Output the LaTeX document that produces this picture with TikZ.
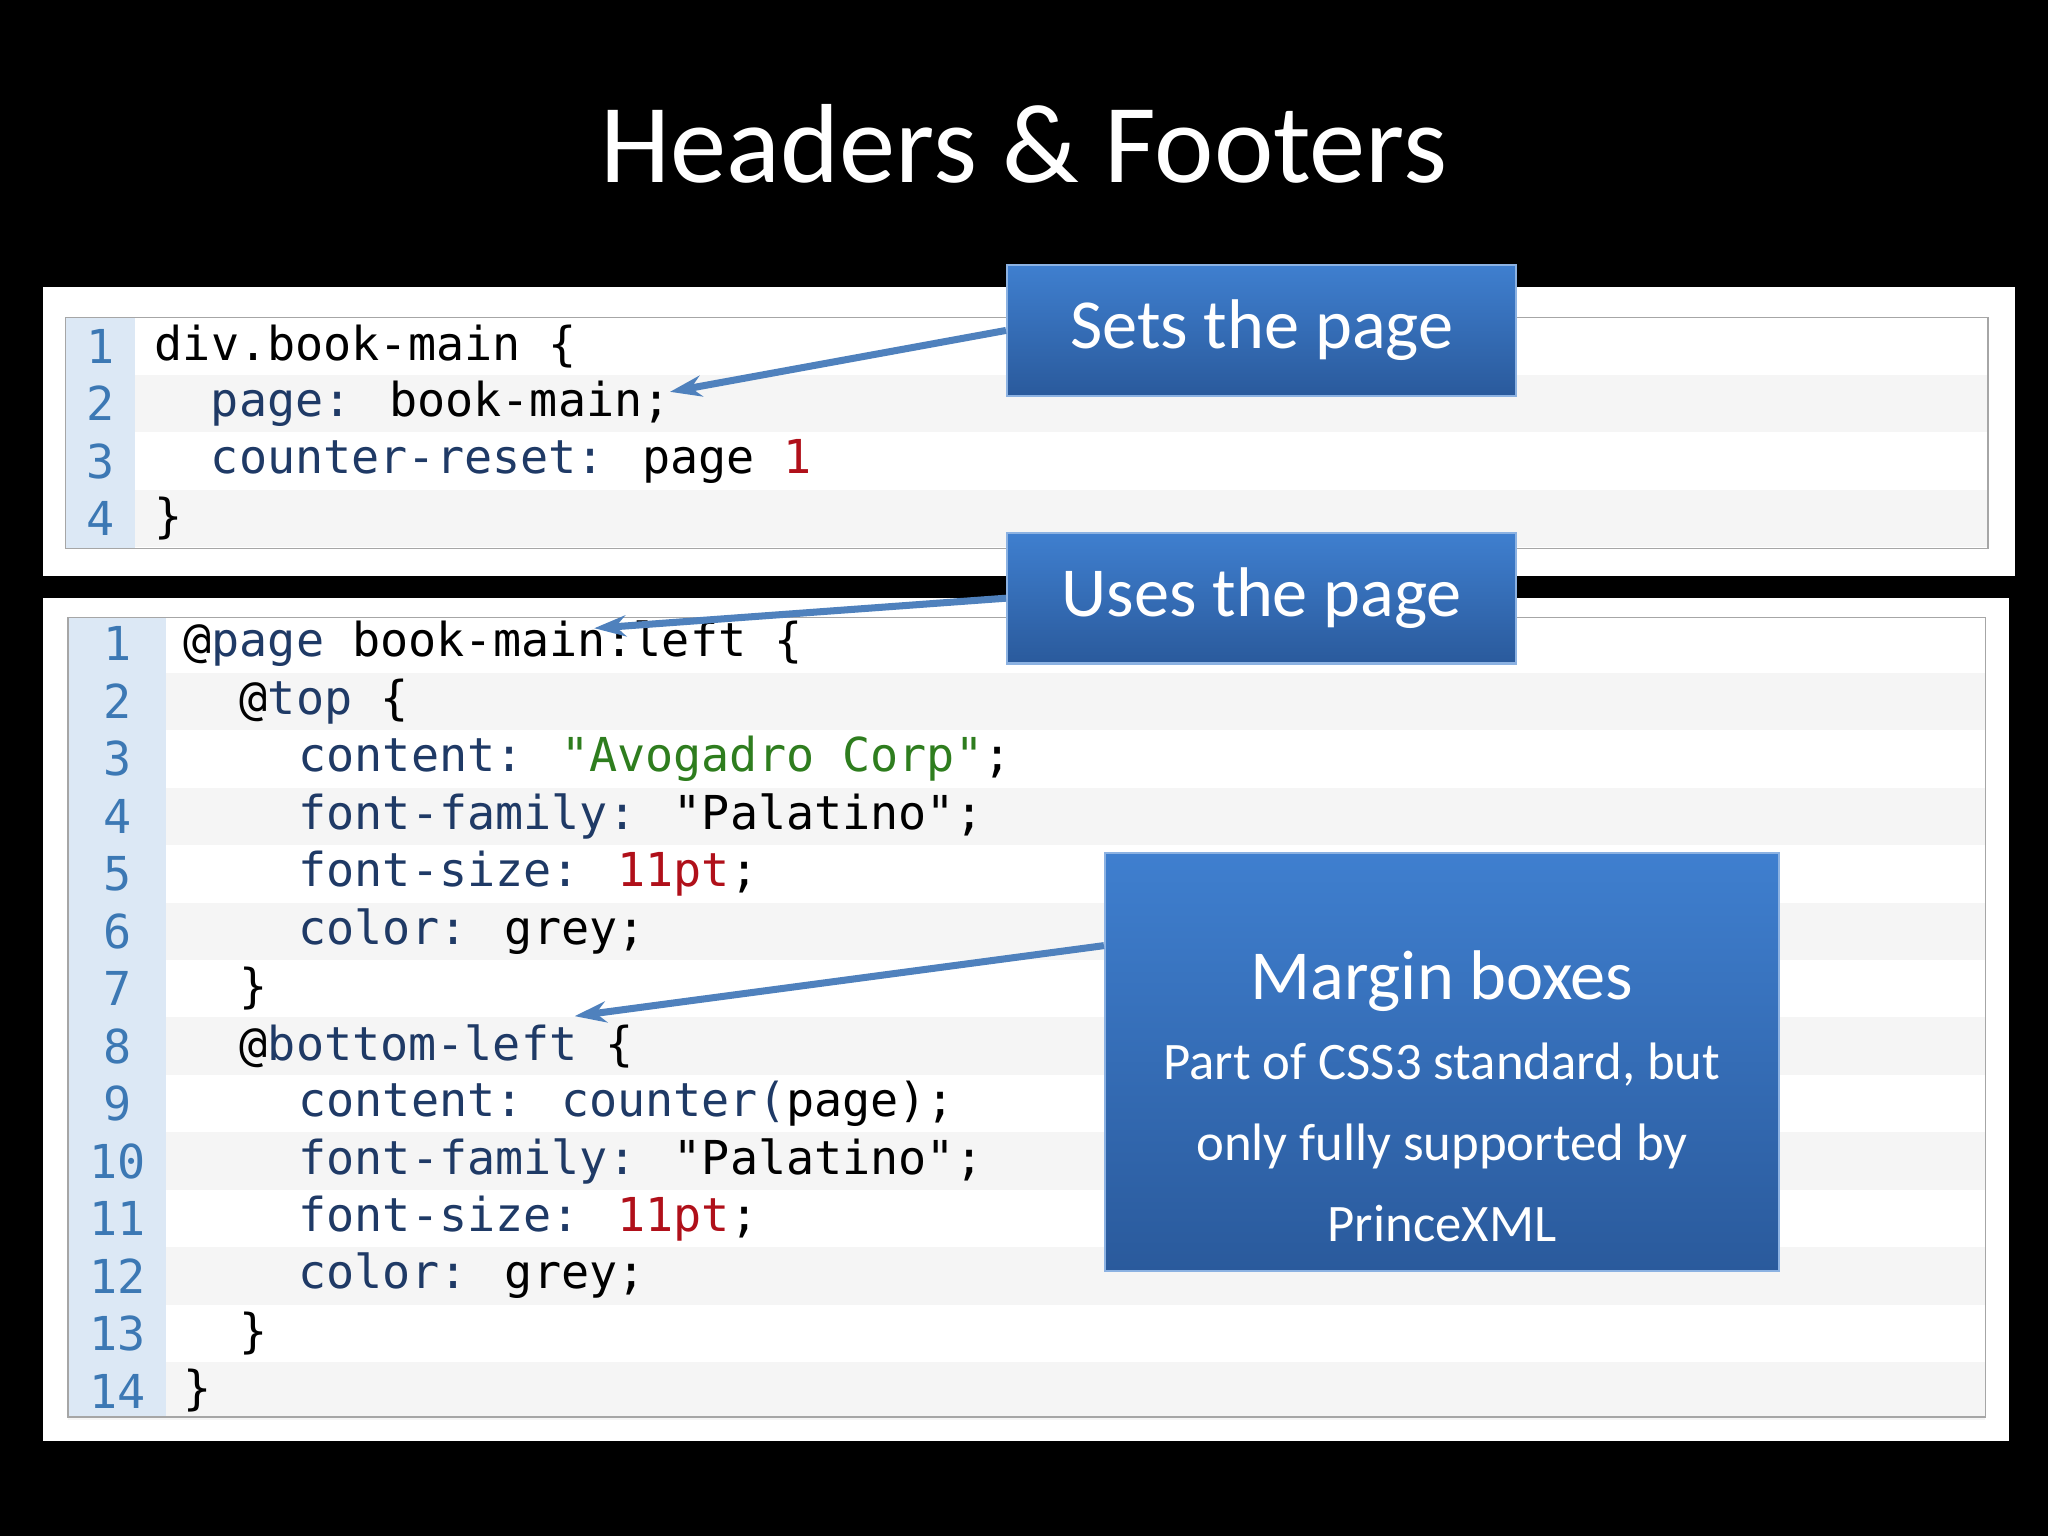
\documentclass[tikz,border=0pt]{standalone}
\usepackage{fontspec}
\setmainfont{Carlito}
\newfontfamily\codefont{DejaVu Sans Mono}
\usetikzlibrary{arrows.meta}
\definecolor{kw}{HTML}{1F3A66}
\definecolor{lnum}{HTML}{3C78B4}
\definecolor{lcol}{HTML}{DCE8F5}
\definecolor{strg}{HTML}{2E7D1E}
\definecolor{numc}{HTML}{B0101A}
\definecolor{calltop}{HTML}{3F7FCF}
\definecolor{callbot}{HTML}{2A5A9C}
\definecolor{arrowc}{HTML}{4F81BD}

\begin{document}
\begin{tikzpicture}[x=0.01306cm, y=-0.01306cm,
    code/.style={anchor=west, inner sep=0pt, font=\codefont\fontsize{13.3}{15}\selectfont},
    num/.style={code, text=lnum},
    callout/.style={draw=calltop!60!white, line width=0.6pt, top color=calltop, bottom color=callbot,
      text=white, align=center, inner sep=0pt},
    pointer/.style={-{Stealth[length=9pt,width=6pt]}, arrowc, line width=2pt}]
  % page background
  \fill[black] (0,0) rectangle (1568,1176);
  \useasboundingbox (0,0) rectangle (1568,1176);
  \node[text=white, font=\fontsize{32}{38}\selectfont] (title) at (784,110) {Headers \& Footers};
  % first listing
  \fill[white] (33,220) rectangle (1543,441);
  \foreach \i in {2,4} \fill[gray!8] (50,221+44*\i-22) rectangle (1522,221+44*\i+22);
  \fill[lcol] (50,243) rectangle (103,420);
  \draw[gray!70] (50,243) rectangle (1522,420);
  \foreach \i in {1,...,4} \node[num] (na\i) at (66,221+44*\i) {\i};
  \node[code] (a1) at (118,265) {div.book-main \{};
  \node[code] (a2) at (161,309) {\textcolor{kw}{page:} book-main;};
  \node[code] (a3) at (161,353) {\textcolor{kw}{counter-reset:} page \textcolor{numc}{1}};
  \node[code] (a4) at (118,397) {\}};
  % second listing
  \fill[white] (33,458) rectangle (1538,1103);
  \foreach \i in {2,4,...,14} \fill[gray!8] (52,449+44*\i-22) rectangle (1520,449+44*\i+22);
  \fill[lcol] (52,473) rectangle (127,1085);
  \draw[gray!70] (52,473) rectangle (1520,1085);
  \foreach \i in {1,...,9} \node[num] (nb\i) at (79,449+44*\i) {\i};
  \foreach \i in {10,...,14} \node[num] (nb\i) at (68,449+44*\i) {\i};
  \node[code] (b1) at (140,493) {@\textcolor{kw}{page} book-main:left \{};
  \node[code] (b2) at (183,537) {@\textcolor{kw}{top} \{};
  \node[code] (b3) at (228,581) {\textcolor{kw}{content:} \textcolor{strg}{"Avogadro Corp"};};
  \node[code] (b4) at (228,625) {\textcolor{kw}{font-family:} "Palatino";};
  \node[code] (b5) at (228,669) {\textcolor{kw}{font-size:} \textcolor{numc}{11pt};};
  \node[code] (b6) at (228,713) {\textcolor{kw}{color:} grey;};
  \node[code] (b7) at (183,757) {\}};
  \node[code] (b8) at (183,801) {@\textcolor{kw}{bottom-left} \{};
  \node[code] (b9) at (228,845) {\textcolor{kw}{content:} \textcolor{kw}{counter(}page);};
  \node[code] (b10) at (228,889) {\textcolor{kw}{font-family:} "Palatino";};
  \node[code] (b11) at (228,933) {\textcolor{kw}{font-size:} \textcolor{numc}{11pt};};
  \node[code] (b12) at (228,977) {\textcolor{kw}{color:} grey;};
  \node[code] (b13) at (183,1021) {\}};
  \node[code] (b14) at (140,1065) {\}};
  % callouts
  \node[callout, minimum width=390*0.01306cm, minimum height=100*0.01306cm,
    font=\fontsize{20}{24}\selectfont] (sets) at (966,253) {Sets the page};
  \node[callout, minimum width=390*0.01306cm, minimum height=100*0.01306cm,
    font=\fontsize{20}{24}\selectfont] (uses) at (966,458) {Uses the page};
  \node[callout, minimum width=516*0.01306cm, minimum height=320*0.01306cm] (margin) at (1104,813) {};
  \node[text=white, align=center, font=\fontsize{15}{23}\selectfont, anchor=north] (mtext) at (1104,718)
    {\fontsize{20}{26}\selectfont Margin boxes\\\fontsize{15}{23}\selectfont Part of CSS3 standard, but\\only fully supported by\\PrinceXML};
  \coordinate (tipa) at (513,300);
  \coordinate (tipb) at (455,481);
  \coordinate (tipc) at (440,778);
  \draw[pointer] (sets.west) -- (tipa);
  \draw[pointer] (uses.west) -- (tipb);
  \draw[pointer] (margin.west |- 0,724) -- (tipc);
\end{tikzpicture}
\end{document}
